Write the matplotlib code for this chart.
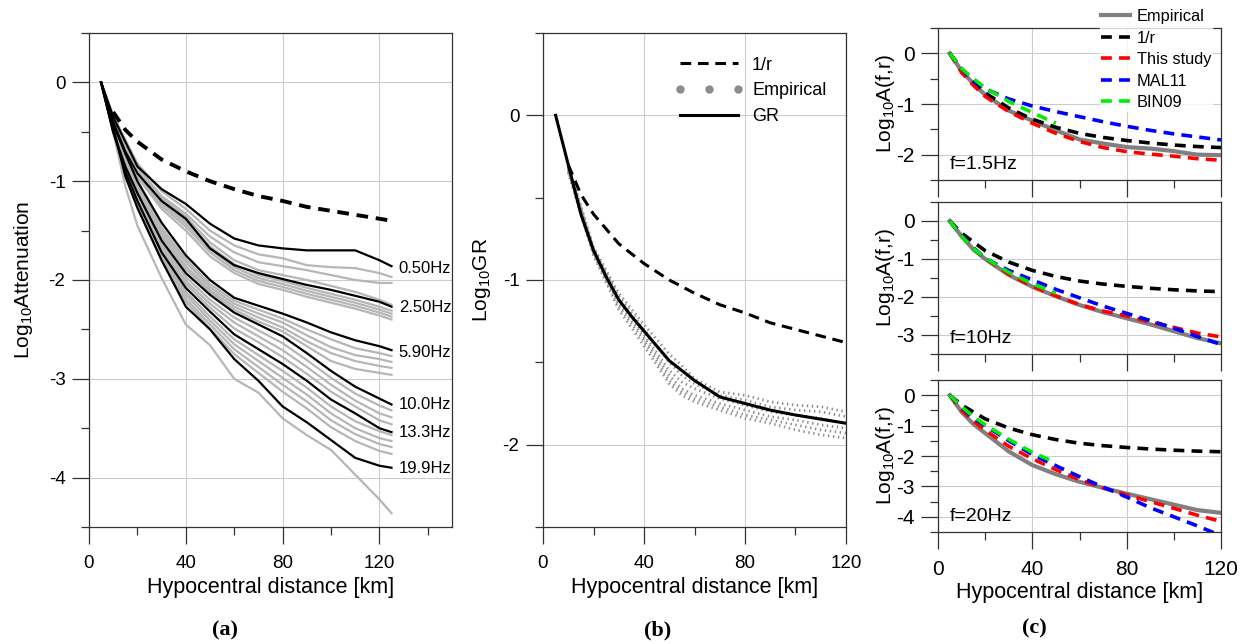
import matplotlib
matplotlib.use('Agg')
import matplotlib.pyplot as plt
from matplotlib.ticker import MultipleLocator, NullFormatter
from matplotlib.lines import Line2D

plt.rcParams['font.family'] = ['Liberation Sans', 'DejaVu Sans']
plt.rcParams['axes.unicode_minus'] = False
plt.rcParams['mathtext.fontset'] = 'custom'
plt.rcParams['mathtext.rm'] = 'Liberation Sans'
plt.rcParams['mathtext.it'] = 'Liberation Sans:italic'

# ---------------- panel (a): attenuation curves ----------------
dist_a = [5, 10, 15, 20, 30, 40, 50, 60, 70, 80, 90, 100, 110, 120, 125]

black_a = {
    '0.50Hz': [0, -0.35, -0.60, -0.85, -1.08, -1.23, -1.43, -1.58, -1.65, -1.68, -1.70, -1.70, -1.70, -1.80, -1.86],
    '2.50Hz': [0, -0.40, -0.70, -0.92, -1.20, -1.38, -1.68, -1.85, -1.93, -1.99, -2.05, -2.10, -2.16, -2.22, -2.27],
    '5.90Hz': [0, -0.42, -0.72, -1.00, -1.42, -1.75, -2.00, -2.18, -2.26, -2.34, -2.43, -2.53, -2.61, -2.67, -2.71],
    '10.0Hz': [0, -0.50, -0.85, -1.12, -1.60, -1.93, -2.15, -2.33, -2.45, -2.57, -2.74, -2.92, -3.08, -3.20, -3.26],
    '13.3Hz': [0, -0.50, -0.90, -1.20, -1.72, -2.08, -2.32, -2.55, -2.70, -2.85, -3.02, -3.21, -3.35, -3.50, -3.54],
    '19.9Hz': [0, -0.45, -0.95, -1.27, -1.80, -2.27, -2.50, -2.80, -3.02, -3.28, -3.44, -3.62, -3.80, -3.88, -3.90],
}

grey_a = [
    [0, -0.33, -0.58, -0.82, -1.10, -1.28, -1.50, -1.65, -1.74, -1.78, -1.85, -1.87, -1.88, -1.93, -1.97],
    [0, -0.35, -0.62, -0.86, -1.15, -1.33, -1.56, -1.72, -1.82, -1.86, -1.90, -1.95, -2.00, -2.03, -2.03],
    [0, -0.37, -0.65, -0.88, -1.17, -1.36, -1.62, -1.80, -1.90, -1.95, -2.00, -2.06, -2.12, -2.20, -2.25],
    [0, -0.38, -0.67, -0.90, -1.20, -1.40, -1.66, -1.84, -1.95, -2.01, -2.08, -2.14, -2.20, -2.27, -2.31],
    [0, -0.39, -0.68, -0.92, -1.22, -1.43, -1.69, -1.87, -1.98, -2.04, -2.11, -2.17, -2.23, -2.30, -2.34],
    [0, -0.40, -0.70, -0.94, -1.25, -1.46, -1.72, -1.90, -2.01, -2.07, -2.14, -2.20, -2.26, -2.33, -2.37],
    [0, -0.41, -0.71, -0.96, -1.28, -1.50, -1.76, -1.93, -2.04, -2.10, -2.17, -2.23, -2.29, -2.36, -2.40],
    [0, -0.44, -0.76, -1.03, -1.47, -1.79, -2.04, -2.21, -2.30, -2.39, -2.50, -2.60, -2.69, -2.74, -2.77],
    [0, -0.45, -0.78, -1.05, -1.50, -1.82, -2.07, -2.24, -2.34, -2.43, -2.56, -2.68, -2.76, -2.80, -2.83],
    [0, -0.46, -0.80, -1.07, -1.53, -1.86, -2.10, -2.27, -2.38, -2.48, -2.62, -2.74, -2.82, -2.87, -2.89],
    [0, -0.48, -0.82, -1.09, -1.56, -1.89, -2.12, -2.30, -2.42, -2.52, -2.67, -2.82, -2.90, -2.94, -2.96],
    [0, -0.50, -0.86, -1.14, -1.63, -1.97, -2.20, -2.38, -2.51, -2.64, -2.81, -2.99, -3.15, -3.27, -3.32],
    [0, -0.50, -0.87, -1.16, -1.66, -2.01, -2.24, -2.43, -2.57, -2.71, -2.88, -3.06, -3.22, -3.35, -3.39],
    [0, -0.50, -0.88, -1.18, -1.69, -2.04, -2.28, -2.49, -2.63, -2.78, -2.95, -3.13, -3.28, -3.42, -3.46],
    [0, -0.50, -0.91, -1.22, -1.75, -2.12, -2.37, -2.60, -2.76, -2.92, -3.09, -3.28, -3.43, -3.53, -3.57],
    [0, -0.50, -0.92, -1.24, -1.77, -2.15, -2.41, -2.65, -2.82, -2.99, -3.16, -3.35, -3.50, -3.60, -3.63],
    [0, -0.50, -0.93, -1.25, -1.79, -2.19, -2.45, -2.70, -2.88, -3.06, -3.23, -3.42, -3.56, -3.66, -3.69],
    [0, -0.50, -0.94, -1.26, -1.80, -2.22, -2.49, -2.75, -2.94, -3.13, -3.30, -3.49, -3.63, -3.73, -3.76],
    [0, -0.50, -1.05, -1.45, -1.98, -2.45, -2.66, -3.00, -3.14, -3.40, -3.57, -3.72, -3.97, -4.22, -4.36],
]

dist_r = [10, 15, 20, 30, 40, 50, 60, 70, 80, 90, 100, 110, 120, 125]
geom_r = [-0.30, -0.48, -0.60, -0.78, -0.90, -1.00, -1.08, -1.15, -1.20, -1.26, -1.30, -1.34, -1.38, -1.40]

# ---------------- panel (b): geometrical spreading ----------------
dist_gr = [5, 10, 15, 20, 25, 30, 35, 40, 50, 60, 70, 80, 90, 100, 110, 120]
gr_vals = [0, -0.30, -0.60, -0.82, -0.98, -1.12, -1.22, -1.31, -1.49, -1.61, -1.71, -1.75, -1.79, -1.82, -1.845, -1.87]

dist_rb = [10, 15, 20, 30, 40, 50, 60, 70, 80, 90, 100, 110, 120]
geom_rb = [-0.30, -0.48, -0.60, -0.78, -0.90, -1.00, -1.08, -1.15, -1.20, -1.26, -1.30, -1.34, -1.38]

dist_emp = [10, 20, 30, 40, 50, 55, 60, 70, 80, 90, 100, 110, 120]
emp_b = [
    [-0.30, -0.80, -1.08, -1.27, -1.45, -1.52, -1.60, -1.68, -1.70, -1.74, -1.76, -1.77, -1.80],
    [-0.31, -0.81, -1.10, -1.30, -1.50, -1.58, -1.63, -1.70, -1.73, -1.77, -1.79, -1.80, -1.83],
    [-0.32, -0.82, -1.12, -1.33, -1.55, -1.62, -1.66, -1.72, -1.76, -1.80, -1.82, -1.84, -1.87],
    [-0.33, -0.83, -1.14, -1.35, -1.58, -1.66, -1.70, -1.75, -1.79, -1.83, -1.85, -1.88, -1.90],
    [-0.34, -0.84, -1.16, -1.37, -1.61, -1.68, -1.72, -1.77, -1.82, -1.85, -1.88, -1.91, -1.93],
    [-0.35, -0.85, -1.18, -1.40, -1.63, -1.70, -1.74, -1.79, -1.84, -1.87, -1.91, -1.94, -1.96],
]

# ---------------- panel (c): model comparison ----------------
dist_c = [5, 10, 15, 20, 30, 40, 50, 60, 70, 80, 90, 100, 110, 120]
dist_c_r = [5, 10, 20, 30, 40, 50, 60, 70, 80, 90, 100, 110, 120]
geom_c = [0, -0.32, -0.78, -1.08, -1.30, -1.46, -1.58, -1.66, -1.72, -1.77, -1.81, -1.84, -1.86]
dist_bin = [5, 10, 15, 20, 30, 40, 50]

freqs_c = ['f=1.5Hz', 'f=10Hz', 'f=20Hz']
emp_c = [
    [0, -0.35, -0.60, -0.82, -1.13, -1.33, -1.52, -1.70, -1.78, -1.85, -1.88, -1.93, -2.00, -2.01],
    [0, -0.40, -0.75, -1.00, -1.42, -1.73, -1.98, -2.21, -2.40, -2.56, -2.72, -2.90, -3.08, -3.22],
    [0, -0.55, -0.95, -1.25, -1.85, -2.30, -2.60, -2.85, -3.05, -3.24, -3.42, -3.60, -3.78, -3.87],
]
this_study = [
    [0, -0.38, -0.63, -0.85, -1.15, -1.38, -1.58, -1.74, -1.86, -1.94, -1.99, -2.03, -2.08, -2.11],
    [0, -0.40, -0.72, -0.98, -1.40, -1.72, -1.97, -2.20, -2.37, -2.50, -2.66, -2.80, -2.95, -3.05],
    [0, -0.50, -0.85, -1.15, -1.68, -2.09, -2.45, -2.78, -3.05, -3.28, -3.50, -3.72, -3.95, -4.15],
]
mal11 = [
    [0, -0.30, -0.55, -0.70, -0.90, -1.04, -1.15, -1.25, -1.35, -1.44, -1.52, -1.59, -1.65, -1.71],
    [0, -0.38, -0.70, -0.98, -1.30, -1.55, -1.80, -2.02, -2.24, -2.43, -2.62, -2.82, -3.04, -3.25],
    [0, -0.40, -0.75, -1.00, -1.50, -1.95, -2.32, -2.68, -3.02, -3.35, -3.70, -4.00, -4.30, -4.62],
]
bin09 = [
    [0, -0.30, -0.50, -0.68, -0.95, -1.17, -1.38],
    [0, -0.40, -0.72, -0.97, -1.35, -1.65, -1.90],
    [0, -0.38, -0.70, -0.97, -1.45, -1.88, -2.22],
]
ylims_c = [(-2.5, 0.5), (-3.5, 0.5), (-4.5, 0.5)]

# ---------------- figure ----------------
W, H = 1246, 644
fig = plt.figure(figsize=(W / 100, H / 100), dpi=100)


def box(l, t, r, b):
    return [l / W, 1 - b / H, (r - l) / W, (b - t) / H]


def style(ax, xlim, ylim, fs, xlabels=True):
    ax.set_xlim(*xlim)
    ax.set_ylim(*ylim)
    ax.xaxis.set_major_locator(MultipleLocator(40))
    ax.xaxis.set_minor_locator(MultipleLocator(20))
    ax.yaxis.set_major_locator(MultipleLocator(1))
    ax.yaxis.set_minor_locator(MultipleLocator(0.5))
    ax.tick_params(which='major', direction='out', length=12, width=0.9,
                   color='#333333', labelsize=fs)
    ax.tick_params(which='minor', direction='out', length=6, width=0.9,
                   color='#333333')
    ax.tick_params(axis='x', which='major', pad=8)
    ax.tick_params(axis='y', which='major', pad=5)
    if not xlabels:
        ax.xaxis.set_major_formatter(NullFormatter())
    ax.grid(True, which='major', color='#cccccc', lw=0.8)
    ax.set_axisbelow(True)
    for s in ax.spines.values():
        s.set_color('#333333')
        s.set_linewidth(0.9)


# (a)
axa = fig.add_axes(box(89, 33, 452, 527))
for g in grey_a:
    axa.plot(dist_a, g, color='#b6b6b6', lw=1.6, solid_joinstyle='round')
for name, vals in black_a.items():
    axa.plot(dist_a, vals, color='black', lw=1.6, solid_joinstyle='round')
axa.plot(dist_r, geom_r, color='black', lw=2.8, ls=(0, (3.0, 2.0)))
label_y = [-1.88, -2.28, -2.73, -3.26, -3.54, -3.91]
for name, y in zip(black_a.keys(), label_y):
    axa.text(128, y, name, fontsize=12, va='center', ha='left')
style(axa, (0, 150), (-4.5, 0.5), 13.5)
axa.set_xlabel('Hypocentral distance [km]', fontsize=15.5, labelpad=4)
axa.set_ylabel('Log$_{10}$Attenuation', fontsize=15)
axa.yaxis.set_label_coords(-0.15, 0.5)

# (b)
axb = fig.add_axes(box(543, 33, 846, 527))
for e in emp_b:
    axb.plot(dist_emp, e, color='#8c8c8c', lw=2.0, ls=(0, (0.5, 1.3)))
axb.plot(dist_rb, geom_rb, color='black', lw=2.2, ls=(0, (3.5, 2.2)))
axb.plot(dist_gr, gr_vals, color='black', lw=2.2)
style(axb, (0, 120), (-2.5, 0.5), 13.5)
axb.set_xlabel('Hypocentral distance [km]', fontsize=15.5, labelpad=4)
axb.set_ylabel('Log$_{10}$GR', fontsize=15)
axb.yaxis.set_label_coords(-0.165, 0.5)
hb = [Line2D([], [], color='black', lw=2.2, ls=(0, (3.5, 2.2))),
      Line2D([], [], color='#8c8c8c', ls='none', marker='o', ms=5),
      Line2D([], [], color='black', lw=2.2)]
axb.legend(hb, ['1/r', 'Empirical', 'GR'], loc='upper left',
           bbox_to_anchor=(0.38, 0.985), frameon=False, fontsize=13,
           handlelength=3.8, handletextpad=0.5, labelspacing=0.48, numpoints=3)

# (c)
boxes_c = [(28, 180), (202, 354), (380, 532)]
axes_c = []
for i, (t, b) in enumerate(boxes_c):
    ax = fig.add_axes(box(938, t, 1221, b))
    ax.plot(dist_c, emp_c[i], color='#808080', lw=3)
    ax.plot(dist_c_r, geom_c, color='black', lw=2.6, ls=(0, (3, 2)))
    ax.plot(dist_c, this_study[i], color='#ff0000', lw=2.6, ls=(0, (3, 2)))
    ax.plot(dist_c, mal11[i], color='#0000ff', lw=2.6, ls=(0, (3, 2)))
    ax.plot(dist_bin, bin09[i], color='#00ee00', lw=2.6, ls=(0, (3, 2)))
    style(ax, (0, 120), ylims_c[i], 15, xlabels=(i == 2))
    ax.set_ylabel('Log$_{10}$A(f,r)', fontsize=15)
    ax.yaxis.set_label_coords(-0.145, 0.5)
    ax.text(0.04, 0.1, freqs_c[i], transform=ax.transAxes, fontsize=14,
            va='center', ha='left')
    axes_c.append(ax)
axes_c[2].set_xlabel('Hypocentral distance [km]', fontsize=15.5, labelpad=2)

hc = [Line2D([], [], color='#808080', lw=3),
      Line2D([], [], color='black', lw=2.6, ls=(0, (3, 2))),
      Line2D([], [], color='#ff0000', lw=2.6, ls=(0, (3, 2))),
      Line2D([], [], color='#0000ff', lw=2.6, ls=(0, (3, 2))),
      Line2D([], [], color='#00ee00', lw=2.6, ls=(0, (3, 2)))]
leg = fig.legend(hc, ['Empirical', '1/r', 'This study', 'MAL11', 'BIN09'],
                 loc='upper left', bbox_to_anchor=(1092 / W, 1.0),
                 frameon=True, fontsize=11.8, handlelength=1.75,
                 handletextpad=0.45, labelspacing=0.4, borderpad=0.05,
                 fancybox=False)
leg.get_frame().set_facecolor('white')
leg.get_frame().set_edgecolor('white')

for x, y, s in [(225, 630, '(a)'), (658, 630, '(b)'), (1034, 628, '(c)')]:
    fig.text(x / W, 1 - y / H, s, ha='center', va='center', fontsize=16,
             fontweight='bold', family='Liberation Serif')

fig.savefig('out.png', dpi=100)
